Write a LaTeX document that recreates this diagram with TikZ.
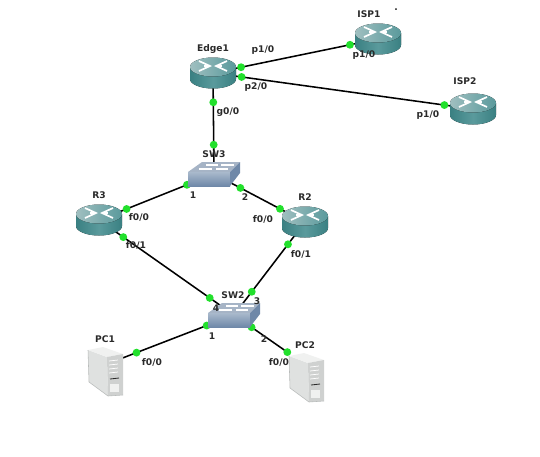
\documentclass[tikz,border=0pt]{standalone}
\usepackage{fontspec}
\setmainfont{DejaVu Sans}
\usetikzlibrary{backgrounds}
\definecolor{teal700}{HTML}{3A8082}
\definecolor{teal500}{HTML}{5A9A9C}
\definecolor{teal300}{HTML}{A0BFC0}
\definecolor{steel600}{HTML}{6F88A8}
\definecolor{steel300}{HTML}{A9B9CC}
\definecolor{steel200}{HTML}{A6B4C6}
\definecolor{case400}{HTML}{B9BCBB}
\definecolor{case300}{HTML}{CFD1D0}
\definecolor{case200}{HTML}{DFE1E0}
\definecolor{case100}{HTML}{F0F1F0}
\definecolor{port500}{HTML}{22E02C}
\definecolor{ink800}{HTML}{2A2A2A}
% device drawings, in pixels round the middle of the node
\newcommand{\routerart}{\begin{scope}[shift={(path picture bounding box.center)}]
  \fill[left color=teal700, right color=teal700, middle color=teal500]
    (-23,-6) -- (-23,6) arc[start angle=180, end angle=0, x radius=23, y radius=9.5]
    -- (23,-6) -- cycle;
  \fill[left color=teal300, right color=teal500]
    (0,-6) ellipse[x radius=23, y radius=9.5];
  \draw[white, line width=1.2pt] (-14,-12) -- (-3,-7) -- (-14,-2)
    (14,-12) -- (3,-7) -- (14,-2);
  \draw[white, line width=0.8pt] (-9,-7) -- (-3,-7) (3,-7) -- (9,-7);
\end{scope}}
\newcommand{\switchart}{\begin{scope}[shift={(path picture bounding box.center)}]
  \fill[steel200] (-26,-2) -- (-12,-12) -- (26,-12) -- (16,-2) -- cycle;
  \fill[top color=steel300, bottom color=steel600] (-26,-2) rectangle (16,12);
  \fill[steel600] (16,-2) -- (26,-12) -- (26,-1) -- (16,12) -- cycle;
  \draw[white, line width=0.9pt] (-15,-5) -- (-2,-5) (-8,-9) -- (4,-9)
    (2,-5) -- (14,-5) (7,-9) -- (20,-9);
\end{scope}}
\newcommand{\pcart}{\begin{scope}[shift={(path picture bounding box.center)}]
  \fill[case200] (-17,-22) -- (2,-15) -- (3,24) -- (-16,10) -- cycle;
  \fill[case100] (-17,-22) -- (-2,-25) -- (18,-18) -- (2,-15) -- cycle;
  \fill[case300] (2,-15) -- (18,-18) -- (18,23) -- (3,24) -- cycle;
  \draw[case400, line width=0.4pt] (-17,-22) -- (-16,10) -- (3,24) -- (18,23);
  \draw[white, line width=0.5pt] (4,-11) -- (13,-12) (4,-7) -- (13,-8)
    (4,-3) -- (13,-4) (4,1) -- (13,0);
  \draw[ink800, line width=0.6pt] (5,7) -- (14,6);
  \fill[case100] (5,12) rectangle (14,20);
\end{scope}}
\tikzset{
  router/.style={minimum width=1.16cm, minimum height=0.8cm, inner sep=0pt,
                 path picture={\routerart}},
  switch/.style={minimum width=1.32cm, minimum height=0.62cm, inner sep=0pt,
                 path picture={\switchart}},
  host/.style  ={minimum width=0.92cm, minimum height=1.28cm, inner sep=0pt,
                 path picture={\pcart}},
  lbl/.style   ={font=\bfseries\fontsize{6.5}{7}\selectfont, text=ink800, inner sep=0pt},
  port/.style  ={circle, fill=port500, inner sep=0pt, minimum size=5.6pt},
  link/.style  ={draw=black, line width=1.1pt}
}
\begin{document}
\begin{tikzpicture}[x=0.025cm, y=-0.025cm]
\useasboundingbox (0,0) rectangle (540,456);
\node[router] (edge1) at (213,73)  {};
\node[router] (isp1)  at (378,39)  {};
\node[router] (isp2)  at (473,109) {};
\node[router] (r3)    at (99,220)  {};
\node[router] (r2)    at (305,222) {};
\node[switch] (sw3)   at (214,174) {};
\node[switch] (sw2)   at (234,315) {};
\node[host]   (pc1)   at (105,372) {};
\node[host]   (pc2)   at (306,378) {};

% links sit under the devices, so they can run to the middles
\begin{scope}[on background layer]
\draw[link] (edge1.center) -- node[port,pos=0.17]{} node[port,pos=0.83]{} (isp1.center);
\draw[link] (edge1.center) -- node[port,pos=0.11]{} node[port,pos=0.89]{} (isp2.center);
\draw[link] (edge1.center) -- node[port,pos=0.29]{} node[port,pos=0.71]{} (sw3.center);
\draw[link] (sw3.center)   -- node[port,pos=0.235]{} node[port,pos=0.76]{} (r3.center);
\draw[link] (sw3.center)   -- node[port,pos=0.29]{} node[port,pos=0.725]{} (r2.center);
\draw[link] (r3.center)    -- node[port,pos=0.18]{} node[port,pos=0.82]{} (sw2.center);
\draw[link] (r2.center)    -- node[port,pos=0.24]{} node[port,pos=0.75]{} (sw2.center);
\draw[link, shorten >=8pt] (sw2.center) -- node[port,pos=0.185]{} node[port,pos=0.66]{} (pc1.west);
\draw[link] (sw2.center)   -- node[port,pos=0.33]{} node[port,pos=1]{} (pc2.north west);
\end{scope}

\node[lbl] (edge1t) at (213,49)  {Edge1};
\node[lbl] (isp1t)  at (369,14)  {ISP1};
\node[lbl] (speck)  at (396,10)  {.};
\node[lbl] (isp2t)  at (465,81)  {ISP2};
\node[lbl] (sw3t)   at (214,154) {SW3};
\node[lbl] (r3t)    at (99,195)  {R3};
\node[lbl] (r2t)    at (305,197) {R2};
\node[lbl] (sw2t)   at (233,295) {SW2};
\node[lbl] (pc1t)   at (105,339) {PC1};
\node[lbl] (pc2t)   at (305,345) {PC2};
\node[lbl] (pa)  at (263,50)  {p1/0};
\node[lbl] (pb)  at (364,55)  {p1/0};
\node[lbl] (pc)  at (256,87)  {p2/0};
\node[lbl] (pd)  at (428,115) {p1/0};
\node[lbl] (pe)  at (228,112) {g0/0};
\node[lbl] (pf)  at (193,195) {1};
\node[lbl] (pg)  at (245,197) {2};
\node[lbl] (ph)  at (139,217) {f0/0};
\node[lbl] (pi)  at (263,219) {f0/0};
\node[lbl] (pj)  at (136,245) {f0/1};
\node[lbl] (pk)  at (301,254) {f0/1};
\node[lbl] (pl)  at (216,308) {4};
\node[lbl] (pm)  at (257,301) {3};
\node[lbl] (pn)  at (212,336) {1};
\node[lbl] (po)  at (264,339) {2};
\node[lbl] (pp)  at (152,362) {f0/0};
\node[lbl] (pq)  at (279,362) {f0/0};
\end{tikzpicture}
\end{document}
